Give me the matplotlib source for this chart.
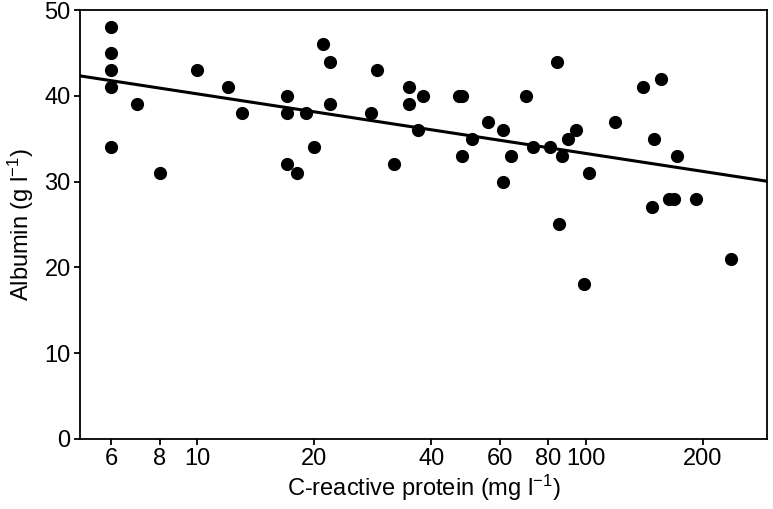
import numpy as np
import matplotlib
matplotlib.use('Agg')
import matplotlib.pyplot as plt
from matplotlib.ticker import FixedLocator, FixedFormatter, NullLocator

# C-reactive protein (mg/l) and albumin (g/l)
crp = [6, 6, 6, 6, 6, 7, 8, 10, 12, 13, 17, 17, 17, 18, 19, 20, 21, 22, 22,
       28, 29, 32, 35, 35, 37, 38, 47, 48, 48, 51, 56, 61, 61, 64, 70, 73,
       81, 84, 85, 87, 90, 94, 99, 102, 119, 140, 148, 150, 156, 164, 168,
       171, 192, 236]
albumin = [48, 45, 43, 41, 34, 39, 31, 43, 41, 38, 40, 38, 32, 31, 38, 34, 46, 44, 39,
           38, 43, 32, 41, 39, 36, 40, 40, 40, 33, 35, 37, 36, 30, 33, 40, 34,
           34, 44, 25, 33, 35, 36, 18, 31, 37, 41, 27, 35, 42, 28, 28,
           33, 28, 21]

xticks = [6, 8, 10, 20, 40, 60, 80, 100, 200]
yticks = [0, 10, 20, 30, 40, 50]

plt.rcParams['font.family'] = ['Liberation Sans', 'DejaVu Sans']
plt.rcParams['mathtext.fontset'] = 'custom'
plt.rcParams['mathtext.rm'] = 'Liberation Sans'
plt.rcParams['mathtext.it'] = 'Liberation Sans'

fig = plt.figure(figsize=(7.73, 5.09), dpi=100)
ax = fig.add_axes([0.104, 0.138, 0.888, 0.842])

ax.scatter(crp, albumin, s=72, color='black', zorder=3)

# least squares fit of albumin on log CRP
b, a = np.polyfit(np.log10(crp), albumin, 1)
xl = np.array([5, 292])
ax.plot(xl, a + b * np.log10(xl), color='black', lw=2.2)

ax.set_xscale('log')
ax.set_xlim(5, 292)
ax.set_ylim(0, 50)
ax.xaxis.set_major_locator(FixedLocator(xticks))
ax.xaxis.set_major_formatter(FixedFormatter([str(t) for t in xticks]))
ax.xaxis.set_minor_locator(NullLocator())
ax.set_yticks(yticks)

for s in ax.spines.values():
    s.set_linewidth(1.3)
ax.tick_params(direction='out', length=4, width=1.3, labelsize=17, pad=3)

ax.set_xlabel('C-reactive protein (mg l$^{-1}$)', fontsize=17, labelpad=2)
ax.set_ylabel('Albumin (g l$^{-1}$)', fontsize=17, labelpad=6)

fig.savefig('out.png', dpi=100)
